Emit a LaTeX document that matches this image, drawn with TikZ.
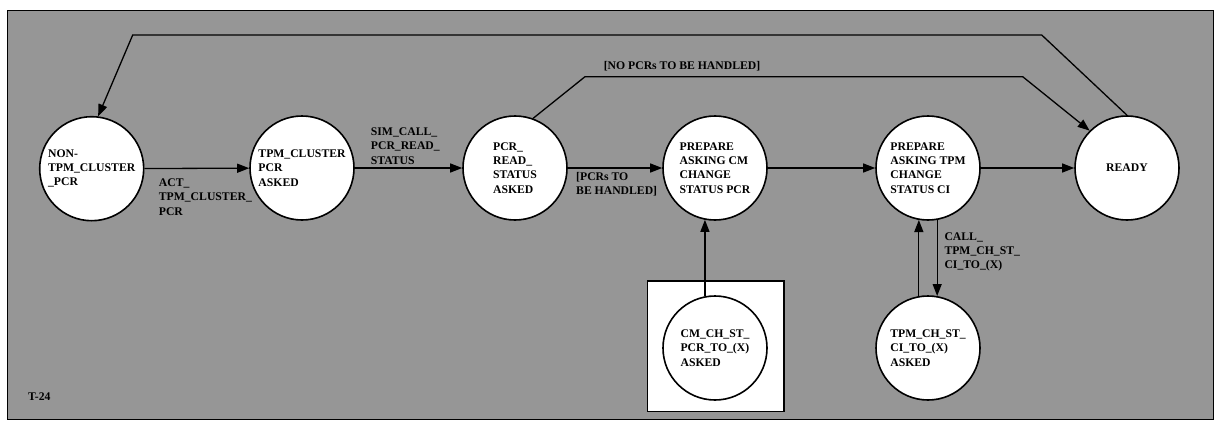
\documentclass[tikz,border=0pt]{standalone}
\usepackage{fontspec}
\setmainfont{Liberation Serif}
\usetikzlibrary{arrows.meta}
\definecolor{bggray}{RGB}{150,150,150}
\tikzset{
  st/.style={circle,draw=black,line width=1.6pt,fill=white,minimum size=104pt,inner sep=0pt,align=left,font=\fontsize{11.7}{14.2}\selectfont\bfseries},
  lbl/.style={align=left,inner sep=0pt,font=\fontsize{11.7}{14.2}\selectfont\bfseries},
  conn/.style={draw=black,line width=1.3pt},
  arr/.style={conn,-{Triangle[length=12pt,width=9pt]}},
}
\begin{document}
\begin{tikzpicture}[x=1pt,y=-1pt]
\useasboundingbox (0,0) rectangle (1214,420);
\node[draw=black,line width=1.3pt,fill=bggray,minimum width=1206pt,minimum height=409pt,inner sep=0pt,anchor=north west] (frame) at (7,10) {};
% box around CM node
\node[draw=black,line width=1.6pt,fill=white,minimum width=136.6pt,minimum height=130.7pt,inner sep=0pt,anchor=north west] (cmbox) at (646.7,280) {};
% states
\node[st] (non) at (91.7,168.7) {NON-\\TPM\_CLUSTER\\\_PCR};
\node[st] (tcp) at (302,168) {TPM\_CLUSTER\\PCR\\ASKED};
\node[st] (prs) at (515,168) {PCR\_\\READ\_\\STATUS\\ASKED};
\node[st] (pcm) at (715,168) {PREPARE\\ASKING CM\\CHANGE\\STATUS PCR};
\node[st] (ptp) at (928,168) {PREPARE\\ASKING TPM\\CHANGE\\STATUS CI};
\node[st] (rdy) at (1127,168) {READY};
\node[st] (tch) at (928,348) {TPM\_CH\_ST\_\\CI\_TO\_(X)\\ASKED};
\node[st] (cmch) at (715,348) {CM\_CH\_ST\_\\PCR\_TO\_(X)\\ASKED};
% helper coordinates
\coordinate (tl) at (132.7,35);
\coordinate (tr) at (1041.7,35);
\coordinate (nl) at (585,76.7);
\coordinate (nr) at (1022.7,76.7);
% connectors
\draw[arr] (non) -- (tcp);
\draw[arr] (tcp) -- (prs);
\draw[arr] (prs) -- (pcm);
\draw[arr] (pcm) -- (ptp);
\draw[arr] (ptp) -- (rdy);
\draw[arr] (cmch.101) -- (pcm.259);
\draw[arr] (tch.100) -- (ptp.260);
\draw[arr] (ptp.280) -- (tch.80);
\draw[arr] (rdy.north) -- (tr) -- (tl) -- (non.83);
\draw[arr] (prs.70) -- (nl) -- (nr) -- (rdy.135);
% labels
\node[lbl,anchor=west] (l1) at (158.7,197) {ACT\_\\TPM\_CLUSTER\_\\PCR};
\node[lbl,anchor=west] (l2) at (370.7,146) {SIM\_CALL\_\\PCR\_READ\_\\STATUS};
\node[lbl,anchor=west] (l3) at (576,184.5) {[PCRs TO\\BE HANDLED]};
\node[lbl,anchor=west] (l4) at (944.3,252) {CALL\_\\TPM\_CH\_ST\_\\CI\_TO\_(X)};
\node[lbl] (l5) at (682,66) {[NO PCRs TO BE HANDLED]};
\node[lbl,anchor=west] (t24) at (28,397) {T-24};
\end{tikzpicture}
\end{document}
